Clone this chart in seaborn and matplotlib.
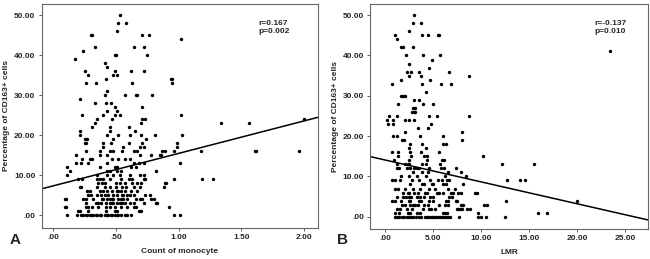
import pandas as pd
import matplotlib.pyplot as plt
import matplotlib.ticker as mticker
import seaborn as sns

# Panel A: percentage of CD163+ cells (levels) vs count of monocyte
a_levels = [0, 1, 2, 3, 4, 5, 6, 7, 8, 9, 10, 11, 12, 13, 14, 15, 16, 17, 18, 19,
            20, 21, 22, 23, 24, 25, 26, 27, 28, 29, 30, 31, 33, 34, 35, 36, 37, 38,
            39, 40, 41, 42, 44, 45, 46, 48, 50]
a_monocyte = [
    [0.11, 0.19, 0.22, 0.24, 0.26, 0.27, 0.29, 0.30, 0.32, 0.34, 0.35, 0.37, 0.38, 0.41,
     0.43, 0.44, 0.46, 0.47, 0.49, 0.51, 0.52, 0.54, 0.57, 0.59, 0.62, 0.96, 1.01],
    [0.20, 0.21, 0.28, 0.42, 0.49, 0.51, 0.68, 0.70],
    [0.09, 0.10, 0.26, 0.28, 0.31, 0.36, 0.42, 0.45, 0.49, 0.54, 0.59, 0.64, 0.66, 0.92],
    [0.26, 0.34, 0.36, 0.38, 0.42, 0.45, 0.47, 0.48, 0.51, 0.53, 0.55, 0.57, 0.61, 0.64,
     0.72, 0.82, 0.83],
    [0.09, 0.10, 0.24, 0.26, 0.32, 0.39, 0.40, 0.43, 0.45, 0.47, 0.48, 0.52, 0.54, 0.56,
     0.59, 0.66, 0.69, 0.71, 0.78, 0.80],
    [0.28, 0.30, 0.35, 0.38, 0.41, 0.44, 0.48, 0.51, 0.55, 0.56, 0.59, 0.61, 0.64, 0.73, 0.77],
    [0.27, 0.29, 0.37, 0.40, 0.43, 0.47, 0.51, 0.52, 0.54, 0.57, 0.62, 0.67],
    [0.21, 0.22, 0.35, 0.41, 0.45, 0.50, 0.55, 0.58, 0.64, 0.69, 0.88],
    [0.36, 0.39, 0.41, 0.50, 0.53, 0.57, 0.63, 0.67, 0.70, 0.89, 0.90],
    [0.20, 0.23, 0.35, 0.37, 0.40, 0.45, 0.54, 0.60, 0.63, 0.72, 0.73, 0.96, 1.19, 1.27],
    [0.11, 0.35, 0.43, 0.48, 0.53, 0.61, 0.69, 0.72],
    [0.13, 0.43, 0.45, 0.51, 0.54, 0.82],
    [0.11, 0.37, 0.49, 0.51, 0.62, 0.66],
    [0.18, 0.22, 0.28, 0.43, 0.64, 0.68, 0.72, 1.01],
    [0.23, 0.29, 0.31, 0.47, 0.52, 0.57, 0.61],
    [0.18, 0.37, 0.43, 0.69, 0.78, 0.85, 0.86],
    [0.26, 0.37, 0.45, 0.48, 0.55, 0.64, 0.67, 0.87, 0.89, 0.96, 1.18, 1.61, 1.62, 1.96],
    [0.40, 0.56, 0.69, 0.72, 0.99],
    [0.25, 0.26, 0.40, 0.46, 0.60, 0.71, 0.99],
    [0.25, 0.27, 0.48, 0.74],
    [0.21, 0.43, 0.52, 0.61, 0.70, 0.81, 1.03],
    [0.21, 0.45, 0.65],
    [0.31, 0.45, 0.60],
    [0.33, 0.70, 1.34, 1.56],
    [0.35, 0.47, 0.71, 0.73, 2.00],
    [0.23, 0.40, 0.49, 0.53, 1.02],
    [0.43, 0.51],
    [0.49, 0.71],
    [0.33, 0.42, 0.46],
    [0.21],
    [0.41, 0.57, 0.66, 0.67, 0.79],
    [0.43],
    [0.26, 0.34, 0.63, 0.95],
    [0.42, 0.94, 0.95],
    [0.28, 0.48, 0.51],
    [0.25, 0.49, 0.62, 0.72],
    [0.43],
    [0.41],
    [0.17],
    [0.49, 0.50, 0.75],
    [0.24],
    [0.33, 0.64, 0.72],
    [1.02],
    [0.30, 0.31, 0.71, 0.76],
    [0.51],
    [0.52, 0.58],
    [0.53],
]

# Panel B: percentage of CD163+ cells (levels) vs LMR
b_levels = [0, 1, 2, 3, 4, 5, 6, 7, 8, 9, 10, 11, 12, 13, 14, 15, 16, 17, 18, 19,
            20, 21, 22, 23, 24, 25, 26, 27, 28, 29, 30, 31, 33, 34, 35, 36, 37, 38,
            39, 40, 41, 42, 44, 45, 46, 48, 50]
b_lmr = [
    [1.0, 1.25, 1.45, 1.75, 1.95, 2.2, 2.45, 2.65, 2.9, 3.15, 3.45, 3.75, 4.1, 4.3, 4.45,
     4.6, 4.8, 4.95, 5.15, 5.3, 5.5, 5.65, 5.9, 6.05, 6.3, 6.5, 6.7, 7.7, 9.6, 10.0, 10.5, 12.4],
    [1.0, 1.4, 2.3, 2.6, 3.3, 3.6, 6.0, 6.2, 6.4, 9.6, 15.9, 16.8],
    [1.2, 1.5, 2.2, 2.8, 3.9, 4.5, 4.7, 5.2, 7.4, 7.6, 7.8, 8.0, 8.5, 8.8],
    [1.7, 2.0, 2.6, 2.9, 3.1, 3.4, 4.0, 4.4, 5.6, 6.2, 6.5, 7.9, 8.1, 10.3, 10.6],
    [0.7, 1.0, 1.6, 2.4, 2.6, 3.5, 3.7, 4.5, 5.0, 6.3, 6.5, 7.3, 7.5, 12.6, 20.0],
    [1.2, 1.8, 2.1, 2.4, 2.7, 3.3, 3.6, 4.0, 4.6, 4.9, 6.6, 6.9],
    [1.8, 2.3, 2.5, 3.0, 3.4, 4.1, 4.3, 5.4, 5.6, 6.0, 6.8, 7.0, 7.6, 7.9, 9.3, 9.5],
    [1.0, 1.3, 2.0, 2.9, 3.6, 4.5, 5.2, 6.5, 7.2],
    [2.6, 3.8, 4.0, 4.8, 5.0, 6.0, 6.3, 8.1],
    [0.7, 1.0, 1.5, 2.8, 3.5, 4.6, 5.5, 5.9, 6.4, 6.6, 12.7, 14.0, 14.5],
    [1.6, 2.5, 3.3, 4.2, 6.2, 8.4],
    [2.9, 3.8, 4.4, 6.5, 7.9],
    [1.2, 1.4, 2.2, 2.6, 3.0, 3.3, 3.5, 4.5, 5.8, 6.1, 7.3],
    [1.2, 2.0, 2.3, 2.5, 3.8, 4.2, 5.7, 12.1, 15.5],
    [0.9, 2.5, 4.3, 5.9, 6.1],
    [1.3, 2.7, 4.0, 4.3, 10.2],
    [0.7, 1.3, 2.6, 3.7, 5.6],
    [2.4, 4.2],
    [2.6, 3.8, 6.0, 6.3],
    [1.7, 1.9, 8.0],
    [0.8, 1.2, 3.6, 6.0],
    [2.0, 8.0],
    [3.4, 4.4],
    [0.3, 0.75, 4.7],
    [0.15, 0.75, 2.0, 2.4, 2.95],
    [0.35, 1.15, 4.5, 5.4, 8.65],
    [2.8, 2.95, 3.1],
    [2.9, 3.1],
    [1.3, 3.9, 5.0],
    [3.0, 3.5],
    [1.6, 1.8, 2.05],
    [4.2],
    [0.65, 3.8, 5.8, 6.8],
    [1.65, 4.65],
    [2.4, 3.65, 8.7],
    [2.2, 2.65, 3.5, 6.6],
    [4.5],
    [2.5],
    [4.8],
    [2.1, 3.9, 5.7],
    [23.4],
    [1.65, 1.8, 2.9],
    [1.25],
    [1.0, 3.85, 4.45, 5.5, 5.6],
    [2.5],
    [2.85, 3.7],
    [2.95],
]

# linear fit lines (intercept, slope) and stats as printed in the figure
a_fit = (7.4, 8.1)
b_fit = (14.05, -0.543)
a_stats = ["r=0.167", "p=0.002"]
b_stats = ["r=-0.137", "p=0.010"]


def to_frame(levels, xs_by_level, xname):
    rows = [(x, y) for y, xs in zip(levels, xs_by_level) for x in xs]
    return pd.DataFrame(rows, columns=[xname, "pct"])


df_a = to_frame(a_levels, a_monocyte, "monocyte")
df_b = to_frame(b_levels, b_lmr, "lmr")

sns.set_style("white")
plt.rcParams['font.family'] = ['Liberation Sans', 'DejaVu Sans']
plt.rcParams['font.weight'] = 'bold'


def spss_fmt(v, pos):
    s = f"{v:.2f}"
    if s.startswith("0."):
        s = s[1:]
    return s


fig = plt.figure(figsize=(6.5, 2.59), dpi=100)
ax_a = fig.add_axes([0.064, 0.12, 0.425, 0.865])
ax_b = fig.add_axes([0.570, 0.115, 0.427, 0.870])

panels = [
    (ax_a, df_a, "monocyte", a_fit, a_stats, (-0.093, 2.11), [0, 0.5, 1, 1.5, 2],
     "Count of monocyte", "A", 15, 0.785),
    (ax_b, df_b, "lmr", b_fit, b_stats, (-1.56, 27.35), [0, 5, 10, 15, 20, 25],
     "LMR", "B", 343, 0.805),
]

for ax, df, xcol, fit, stats, xlim, xticks, xlabel, tag, tag_x, stat_x in panels:
    sns.scatterplot(data=df, x=xcol, y="pct", color="black", s=6, linewidth=0, ax=ax)
    ax.axline((0, fit[0]), slope=fit[1], color="black", linewidth=1.1)
    ax.set_xlim(*xlim)
    ax.set_ylim(-3.1, 52.8)
    ax.set_xticks(xticks)
    ax.set_yticks([0, 10, 20, 30, 40, 50])
    ax.xaxis.set_major_formatter(mticker.FuncFormatter(spss_fmt))
    ax.yaxis.set_major_formatter(mticker.FuncFormatter(spss_fmt))
    ax.tick_params(axis="both", direction="out", length=2.5, width=0.6,
                   labelsize=6, pad=2, bottom=True, left=True, color="#444444")
    for lab in ax.get_xticklabels() + ax.get_yticklabels():
        lab.set_fontweight("bold")
    for sp in ax.spines.values():
        sp.set_color("#666666")
        sp.set_linewidth(0.8)
    ax.set_xlabel(xlabel, fontsize=6, fontweight="bold", labelpad=5)
    ax.set_ylabel("Percentage of CD163+ cells", fontsize=6, fontweight="bold", labelpad=3)
    ax.text(stat_x, 0.93, stats[0] + "\n" + stats[1], transform=ax.transAxes,
            fontsize=6, fontweight="bold", va="top", ha="left", linespacing=1.35)
    fig.text(tag_x / 650, 1 - 240 / 259, tag, fontsize=11, fontweight="bold",
             ha="center", va="center")

fig.savefig("out.png", dpi=100, facecolor="white")
